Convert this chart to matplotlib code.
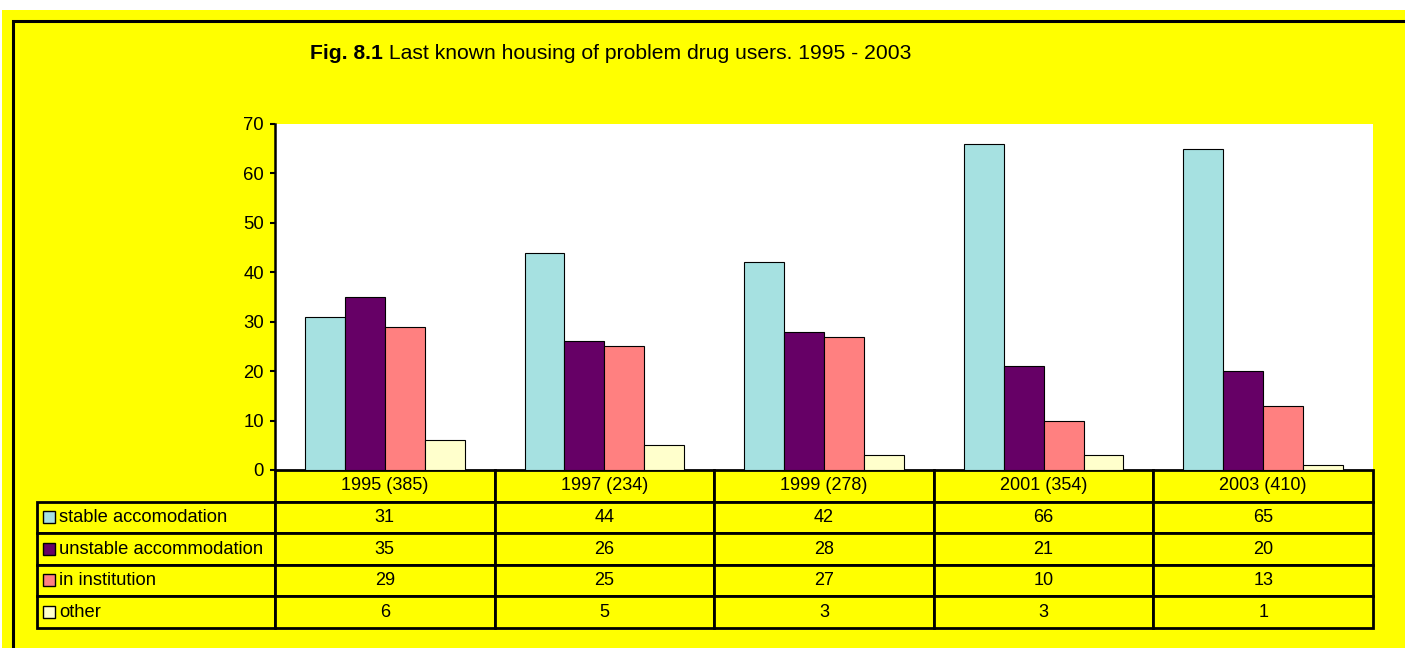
import matplotlib.pyplot as plt
from matplotlib.patches import Rectangle
import numpy as np

plt.rcParams['font.family'] = ['Liberation Sans', 'DejaVu Sans']

# data
years = ['1995 (385)', '1997 (234)', '1999 (278)', '2001 (354)', '2003 (410)']
series_names = ['stable accomodation', 'unstable accommodation', 'in institution', 'other']
stable = [31, 44, 42, 66, 65]
unstable = [35, 26, 28, 21, 20]
institution = [29, 25, 27, 10, 13]
other = [6, 5, 3, 3, 1]
series = [stable, unstable, institution, other]
colors = ['#A6E1E1', '#660066', '#FF8080', '#FFFFCC']

W, H = 1405, 648
fig = plt.figure(figsize=(W / 100, H / 100), dpi=100, facecolor='white')

# yellow chart background and black frame
fig.add_artist(Rectangle((2 / W, 0), 1, 1 - 10 / H, transform=fig.transFigure,
                         facecolor='#FFFF00', edgecolor='none', zorder=0))
fig.add_artist(Rectangle((13 / W, -0.1), 2, 1.1 - 21 / H, transform=fig.transFigure,
                         facecolor='none', edgecolor='black', linewidth=2.2, zorder=1))

# title: bold figure number followed by plain text
t1 = fig.text(310 / W, 1 - 59 / H, 'Fig. 8.1', fontsize=15.2, fontweight='bold', va='baseline')
fig.canvas.draw()
bb = t1.get_window_extent()
fig.text(bb.x1 / W, 1 - 59 / H, ' Last known housing of problem drug users. 1995 - 2003',
         fontsize=15.2, va='baseline')

# plot area
ax_l, ax_t, ax_w, ax_h = 275, 124, 1098, 346
ax = fig.add_axes([ax_l / W, (H - ax_t - ax_h) / H, ax_w / W, ax_h / H])
ax.set_facecolor('white')

x = np.arange(len(years))
bw = 40 / 220
for k, (vals, c) in enumerate(zip(series, colors)):
    ax.bar(x + (k - 1.5) * bw, vals, bw, color=c, edgecolor='black', linewidth=0.8, zorder=2)

ax.set_xlim(-0.5, len(years) - 0.5)
ax.set_ylim(0, 70)
ax.set_yticks(range(0, 71, 10))
ax.set_xticks([])
for s in ['top', 'right', 'bottom']:
    ax.spines[s].set_visible(False)
ax.spines['left'].set_linewidth(1.8)
ax.tick_params(axis='y', direction='out', length=3.6, width=1.5, labelsize=13.3, pad=4.3)

# data table below the bars
lab_w = 238
tab_h = 158
cells = [[''] + years] + [[''] + [str(v) for v in s] for s in series]
tbl = ax.table(cellText=cells, cellLoc='center',
               colWidths=[lab_w] + [ax_w / len(years)] * len(years),
               bbox=[-lab_w / ax_w, -tab_h / ax_h, (lab_w + ax_w) / ax_w, tab_h / ax_h])
tbl.auto_set_font_size(False)
tbl.set_fontsize(13)
for (r, c), cell in tbl.get_celld().items():
    cell.set_facecolor('#FFFF00')
    cell.set_linewidth(2)
    if r == 0 and c == 0:
        cell.set_facecolor('none')
        cell.visible_edges = ''

# row labels with legend keys
row_h = tab_h / len(cells)
for i, (name, c) in enumerate(zip(series_names, colors)):
    yc = row_h * (i + 1.5)
    ax.add_patch(Rectangle(((43 - ax_l) / ax_w, -(yc + 5.5) / ax_h), 12 / ax_w, 12 / ax_h,
                           transform=ax.transAxes, facecolor=c, edgecolor='black',
                           linewidth=1, clip_on=False, zorder=5))
    ax.text((59 - ax_l) / ax_w, -yc / ax_h, name, transform=ax.transAxes,
            fontsize=13.2, va='center', ha='left', zorder=5)

fig.savefig('out.png', dpi=100)
